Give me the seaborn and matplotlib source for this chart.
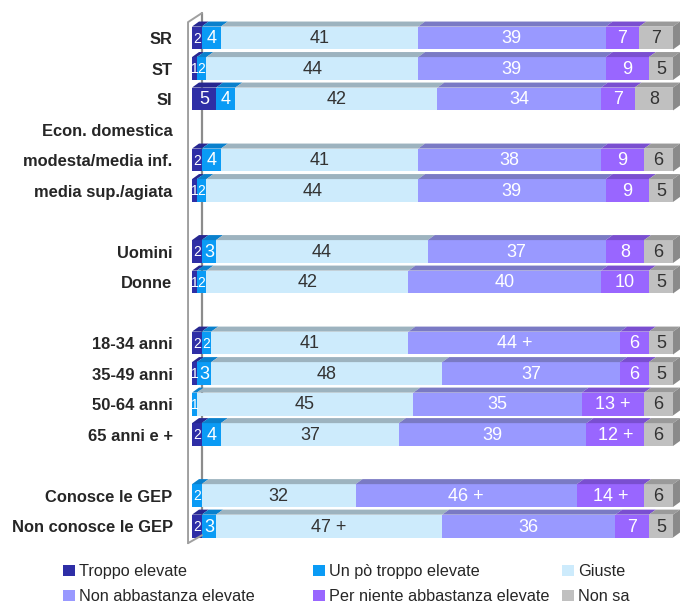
import matplotlib

matplotlib.use("Agg")
import matplotlib.pyplot as plt
import numpy as np
import pandas as pd
import seaborn as sns
from matplotlib.patches import Polygon, Patch

# Row labels (blank strings are spacer rows)
rows = [
    "SR", "ST", "SI", "Econ. domestica", "modesta/media inf.", "media sup./agiata", " ",
    "Uomini", "Donne", "  ",
    "18-34 anni", "35-49 anni", "50-64 anni", "65 anni e +", "   ",
    "Conosce le GEP", "Non conosce le GEP",
]
groups = [
    "SR", "ST", "SI", "modesta/media inf.", "media sup./agiata",
    "Uomini", "Donne", "18-34 anni", "35-49 anni", "50-64 anni", "65 anni e +",
    "Conosce le GEP", "Non conosce le GEP",
]

troppo = [2, 1, 5, 2, 1, 2, 1, 2, 1, 0, 2, 0, 2]
un_po = [4, 2, 4, 4, 2, 3, 2, 2, 3, 1, 4, 2, 3]
giuste = [41, 44, 42, 41, 44, 44, 42, 41, 48, 45, 37, 32, 47]
non_abb = [39, 39, 34, 38, 39, 37, 40, 44, 37, 35, 39, 46, 36]
per_niente = [7, 9, 7, 9, 9, 8, 10, 6, 6, 13, 12, 14, 7]
non_sa = [7, 5, 8, 6, 5, 6, 5, 5, 5, 6, 6, 6, 5]

# significance markers ("+")
plus_giuste = ["Non conosce le GEP"]
plus_non_abb = ["18-34 anni", "Conosce le GEP"]
plus_per_niente = ["50-64 anni", "65 anni e +", "Conosce le GEP"]

series_names = [
    "Troppo elevate", "Un pò troppo elevate", "Giuste",
    "Non abbastanza elevate", "Per niente abbastanza elevate", "Non sa",
]
series_values = [troppo, un_po, giuste, non_abb, per_niente, non_sa]
series_plus = [[], [], plus_giuste, plus_non_abb, plus_per_niente, []]
front_colors = ["#2e2ea6", "#0a9bf5", "#cdebfc", "#9999ff", "#9966ff", "#c0c0c0"]
top_colors = ["#272790", "#0a80cc", "#9db3bf", "#7a7ac4", "#7a4fd0", "#9a9a9a"]
text_colors = ["white", "white", "#333333", "white", "white", "#333333"]

sns.set_style("white")
plt.rcParams["font.family"] = ["Liberation Sans", "DejaVu Sans"]

df = pd.DataFrame({"gruppo": groups})
for name, vals in zip(series_names, series_values):
    df[name] = vals
cum = df[series_names].cumsum(axis=1)

fig = plt.figure(figsize=(6.81, 6.05), dpi=100)
ax = fig.add_axes([185 / 681, 1 - 545 / 605, 1 - 185 / 681, (545 - 7.5) / 605])

bar_h = 0.75
depth_x = 1.45
depth_y = 0.165

# wall line behind the bars
ax.plot([2.08, 2.08], [-0.82, 16.3], color="#8c8c8c", lw=1.6, zorder=0)

# stacked bars: draw cumulative totals from the right-most series backwards
for i in range(len(series_names) - 1, -1, -1):
    sns.barplot(
        x=cum[series_names[i]],
        y=df["gruppo"],
        order=rows,
        orient="h",
        color=front_colors[i],
        saturation=1,
        width=bar_h,
        linewidth=0,
        errorbar=None,
        ax=ax,
        zorder=2,
    )

pos = {r: k for k, r in enumerate(rows)}
for j, g in enumerate(groups):
    y = pos[g]
    top = y - bar_h / 2
    left = 0.0
    for i, name in enumerate(series_names):
        w = series_values[i][j]
        if w > 0:
            right = left + w
            ax.add_patch(Polygon(
                [(left, top), (right, top), (right + depth_x, top - depth_y),
                 (left + depth_x, top - depth_y)],
                closed=True, facecolor=top_colors[i], edgecolor="none", zorder=3,
            ))
            label = str(w) + (" +" if g in series_plus[i] else "")
            fs = 10 if w <= 2 else 13
            ax.text(left + w / 2, y + 0.03, label, ha="center", va="center",
                    color=text_colors[i], fontsize=fs, zorder=4)
        left += w
    # right side face
    ax.add_patch(Polygon(
        [(100, top), (100 + depth_x, top - depth_y),
         (100 + depth_x, top + bar_h - depth_y), (100, top + bar_h)],
        closed=True, facecolor="#8a8a8a", edgecolor="none", zorder=3,
    ))

# front wall line
ax.plot([-0.83, -0.83, 2.08], [16.56, -0.52, -0.82], color="#a0a0a0", lw=1.4, zorder=5,
        clip_on=False)
ax.plot([-0.83, 2.08], [16.56, 16.3], color="#a0a0a0", lw=1.4, zorder=5, clip_on=False)

ax.set_xlim(-1.46, 101.66)
ax.set_ylim(16.62, -1.0)
ax.set_xlabel("")
ax.set_ylabel("")
ax.set_xticks([])
ax.set_yticks(range(len(rows)))
ax.set_yticklabels(rows, fontweight="bold", fontsize=11.9)
ax.tick_params(axis="y", length=0, pad=9)
for s in ax.spines.values():
    s.set_visible(False)

# legend: three columns, two rows
col_x = [63 / 681, 313 / 681, 562 / 681]
for c in range(3):
    handles = [
        Patch(facecolor=front_colors[c], edgecolor="none", label=series_names[c]),
        Patch(facecolor=front_colors[c + 3], edgecolor="none", label=series_names[c + 3]),
    ]
    fig.legend(
        handles=handles, loc="upper left", bbox_to_anchor=(col_x[c], 1 - 564 / 605),
        frameon=False, fontsize=11.7, handlelength=0.75, handleheight=0.7,
        handletextpad=0.25, labelspacing=0.62, borderpad=0, borderaxespad=0,
    )

fig.savefig("out.png", dpi=100)
